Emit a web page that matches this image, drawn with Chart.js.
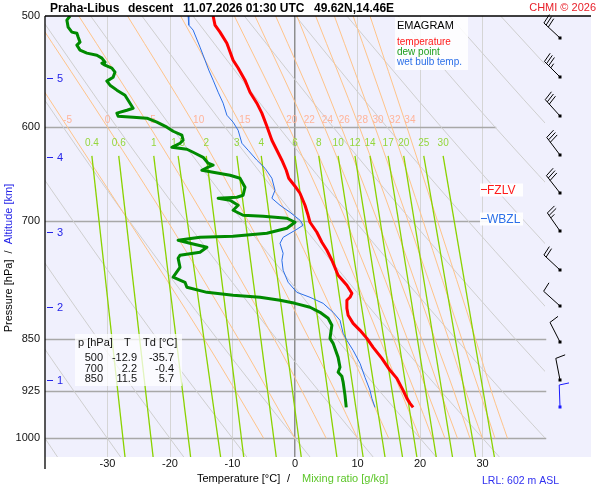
<!DOCTYPE html>
<html>
<head>
<meta charset="utf-8">
<title>Emagram Praha-Libus</title>
<script src="https://cdn.jsdelivr.net/npm/chart.js@4.4.1/dist/chart.umd.min.js"></script>
<style>
  html, body { margin: 0; padding: 0; background: #fff; }
  #wrap { width: 600px; height: 500px; }
</style>
</head>
<body>
<div id="wrap"><canvas id="emagram" width="600" height="500"></canvas></div>
<script>
// axis ticks
const pressureTicks = [500, 600, 700, 850, 925, 1000];
const tempTicks = [-30, -20, -10, 0, 10, 20, 30];

// temperature profile (hPa / degC)
const tempPres = [500, 507.5, 513.4, 522.8, 537.6, 544.6, 555.5, 566.6, 576.9, 586.4, 599.1, 613.1, 623.2, 633.5, 644, 652.5, 661.1, 668.8, 682.1, 693.4, 701.4, 713, 724.8, 734.4, 746.5, 765.1, 777.8, 788.1, 793.3, 797.2, 807.7, 817.1, 828, 837.5, 848.6, 861.2, 876.9, 894.3, 906.2, 924.2, 936.4, 944.1, 950.4];
const tempVals = [-13.1, -12.8, -12.0, -10.9, -9.9, -9.1, -8.0, -7.2, -6.1, -5.3, -4.5, -3.7, -2.9, -2.1, -1.4, -1.0, 0.0, 0.8, 1.6, 2.1, 2.4, 3.5, 4.3, 5.1, 5.9, 6.9, 8.3, 9.1, 8.8, 8.3, 8.3, 8.5, 9.3, 10.4, 11.5, 12.5, 13.9, 15.2, 16.3, 17.3, 17.9, 18.4, 18.9];

// dew point profile
const dewPres = [500, 503.4, 509.2, 513.4, 514.3, 517.6, 521.9, 524.5, 528.8, 531.4, 533.2, 535.8, 539.4, 540.2, 542, 544.6, 548.2, 552.8, 556.4, 560.1, 564.7, 569.4, 574.1, 581.7, 583.6, 586.4, 589.4, 590.3, 591.3, 595.2, 600.1, 604.1, 608, 613.1, 616.1, 620.2, 622.2, 625.3, 630.5, 636.6, 638.7, 640.8, 644, 646.1, 649.3, 652.5, 662.2, 671, 673.2, 674.3, 676.5, 682.1, 687.7, 693.4, 694.5, 696.8, 701.4, 708.3, 714.2, 717.7, 718.9, 722.4, 726, 730.8, 736.8, 740.5, 744.1, 755.2, 767.6, 774, 780.4, 786.9, 790.7, 793.3, 797.2, 801.2, 806.4, 813.1, 821.1, 830.6, 848.6, 855.6, 875.5, 889.9, 897.2, 903.2, 911.7, 931.8, 950.4];
const dewVals = [-36.0, -36.5, -36.3, -35.7, -34.9, -34.7, -34.4, -34.9, -34.4, -33.3, -31.7, -30.9, -30.4, -30.9, -30.4, -29.3, -28.8, -29.1, -30.1, -29.6, -28.5, -27.2, -26.7, -25.9, -26.9, -28.5, -28.3, -25.9, -23.7, -22.1, -20.5, -19.5, -18.1, -17.9, -18.4, -19.7, -17.3, -16.3, -14.7, -13.9, -13.1, -13.9, -14.9, -13.1, -10.4, -8.8, -8.0, -8.3, -9.3, -12.3, -10.4, -9.1, -9.9, -8.3, -5.1, -1.3, 0.0, -1.3, -4.5, -9.9, -15.2, -18.7, -16.8, -14.1, -15.2, -18.4, -18.7, -18.4, -19.5, -17.6, -17.3, -14.1, -9.9, -5.6, -2.4, 0.0, 2.4, 4.0, 5.3, 5.9, 5.6, 6.1, 6.9, 7.2, 6.9, 7.5, 7.7, 8.0, 8.2];

// wet bulb temperature profile
const wetPres = [500, 507.5, 511.7, 526.2, 537.6, 546.4, 555.5, 566.6, 576.9, 588.4, 595.2, 603.1, 616.1, 623.2, 633.5, 641.9, 652.5, 665.5, 674.3, 682.1, 690, 699.1, 704.8, 709.5, 719, 726, 738.1, 746.5, 758.9, 774, 786.9, 793.3, 801.2, 813.1, 823.8, 841.6, 851.4, 865.5, 884.1, 904.7, 924.2, 936.4, 950.4];
const wetVals = [-17.1, -17.0, -16.3, -15.2, -14.4, -13.8, -13.1, -12.3, -11.5, -10.9, -9.9, -9.1, -8.5, -7.5, -6.1, -4.8, -3.7, -3.2, -3.7, -2.4, -0.8, 0.8, 1.3, 0.3, -1.9, -2.4, -1.9, -2.1, -1.9, -1.1, 0.3, 2.4, 4.5, 6.1, 7.2, 7.7, 8.3, 9.3, 10.4, 11.2, 12.0, 12.3, 12.8];

// saturated (pseudo) adiabats, labelled by wet bulb potential temperature
const pseudoLevels = [500, 600, 700, 850, 925, 1000];
const pseudoTheta = [-5, 0, 5, 10, 15, 20, 22, 24, 26, 28, 30, 32, 34];
const pseudoTemps = [
  [-48.0, -36.4, -26.6, -14.5, -9.5, -5],
  [-41.7, -30.0, -20.4, -9.0, -4.3, 0],
  [-34.6, -23.2, -14.1, -3.3, 1.1, 5],
  [-26.8, -15.9, -7.5, 2.3, 6.4, 10],
  [-18.3, -8.5, -0.8, 8.0, 11.6, 15],
  [-9.7, -1.0, 5.8, 13.6, 16.9, 20],
  [-6.4, 1.8, 8.2, 15.8, 19.1, 22],
  [-3.1, 4.7, 10.8, 18.0, 21.1, 24],
  [0.3, 7.4, 13.2, 20.3, 23.2, 26],
  [3.3, 10.3, 15.8, 22.4, 25.4, 28],
  [6.3, 12.8, 18.1, 24.6, 27.3, 30],
  [9.3, 15.5, 20.5, 26.7, 29.5, 32],
  [12.0, 17.9, 22.8, 28.9, 31.4, 34]
];

// dry adiabats, labelled by potential temperature
const dryLevels = [500, 600, 700, 850, 925, 1031];
const dryTheta = [-40, -30, -20, -10, 0, 10, 20, 30, 40, 50, 60, 70, 80, 90, 100];
const dryTemps = [
  [-81.9, -71.7, -62.6, -50.6, -45.1, -38.0],
  [-73.7, -63.1, -53.6, -41.1, -35.4, -27.9],
  [-65.5, -54.4, -44.6, -31.5, -25.6, -17.8],
  [-57.3, -45.8, -35.5, -22.0, -15.8, -7.7],
  [-49.1, -37.1, -26.5, -12.4, -6.0, 2.4],
  [-40.9, -28.5, -17.5, -2.9, 3.8, 12.5],
  [-32.7, -19.8, -8.4, 6.7, 13.5, 22.6],
  [-24.5, -11.2, 0.6, 16.2, 23.3, 32.7],
  [-16.3, -2.6, 9.6, 25.8, 33.1, 42.8],
  [-8.1, 6.1, 18.7, 35.3, 42.9, 52.8],
  [0.1, 14.7, 27.7, 44.9, 52.7, 62.9],
  [8.3, 23.4, 36.7, 54.4, 62.4, 73.0],
  [16.5, 32.0, 45.8, 64.0, 72.2, 83.1],
  [24.7, 40.6, 54.8, 73.5, 82.0, 93.2],
  [32.9, 49.3, 63.8, 83.0, 91.8, 103.3]
];

// mixing ratio lines (g/kg), temperature at top and bottom end
const mixTopP = 629;
const mixBottomP = 1031;
const mixRatios = [0.4, 0.6, 1, 1.5, 2, 3, 4, 6, 8, 10, 12, 14, 17, 20, 25, 30];
const mixTopT = [-32.5, -28.2, -22.6, -18.7, -14.2, -9.3, -5.4, 0.0, 3.8, 6.9, 9.6, 12.0, 14.9, 17.4, 20.6, 23.7];
const mixBottomT = [-27.2, -22.7, -16.7, -11.9, -8.2, -3.0, 1.0, 6.7, 10.9, 14.4, 17.2, 19.5, 22.6, 25.2, 28.9, 31.9];

// value table
const tablePres = [500, 700, 850];
const tableT = [-12.9, 2.2, 11.5];
const tableTd = [-35.7, -0.4, 5.7];

// altitude marks (km) and their pressure
const altKm = [1, 2, 3, 4, 5];
const altPres = [909, 806, 713, 630, 554];

// freezing level and wet bulb zero level
const levelNames = ['FZLV', 'WBZL'];
const levelPres = [664, 697];

// wind (direction deg, speed kt)
const windPres = [518, 553, 589, 628, 669, 712, 758, 805, 854, 908, 950];
const windDir = [313, 315, 318, 323, 322, 325, 313, 312, 333, 349, 358];
const windSpd = [30, 35, 30, 30, 30, 25, 20, 10, 10, 10, 10];

const FONT = "'Liberation Sans', Arial, Helvetica, sans-serif";
const BLUE = '#2323e8';

function curve(label, pres, vals, color, width, order, extra) {
  return Object.assign({
    label: label,
    data: pres.map((p, i) => ({ x: vals[i], y: p })),
    borderColor: color,
    borderWidth: width,
    pointRadius: 0,
    fill: false,
    order: order
  }, extra || {});
}

const datasets = [];
dryTheta.forEach((th, i) => {
  datasets.push(curve('dry ' + th, dryLevels, dryTemps[i], '#cfcfcf', 1, 5,
    { cubicInterpolationMode: 'monotone', clip: { left: 0, top: 0, right: -46, bottom: 0 } }));
});
pseudoTheta.forEach((th, i) => {
  datasets.push(curve('moist ' + th, pseudoLevels, pseudoTemps[i], '#ffc48a', 1, 4,
    { cubicInterpolationMode: 'monotone' }));
});
mixRatios.forEach((w, i) => {
  datasets.push(curve('mix ' + w, [mixTopP, mixBottomP], [mixTopT[i], mixBottomT[i]], '#8ad200', 1.3, 3));
});
datasets.push(curve('wet bulb temp.', wetPres, wetVals, '#2b6fe8', 1, 2));
datasets.push(curve('dew point', dewPres, dewVals, '#008a00', 3, 1, { borderJoinStyle: 'round' }));
datasets.push(curve('temperature', tempPres, tempVals, '#ff0000', 3, 0, { borderJoinStyle: 'round' }));

function drawIsoLabels(chart) {
  const { ctx, scales: { x, y } } = chart;
  const i600 = pseudoLevels.indexOf(600);
  ctx.save();
  ctx.font = '10px ' + FONT;
  ctx.textAlign = 'center';
  ctx.textBaseline = 'middle';
  ctx.fillStyle = '#ffb49a';
  pseudoTheta.forEach((th, i) => {
    const shift = th <= 0 ? 0 : 3;
    ctx.fillText(String(th), x.getPixelForValue(pseudoTemps[i][i600]) + shift, y.getPixelForValue(600) - 7);
  });
  ctx.fillStyle = '#94d63c';
  mixRatios.forEach((w, i) => {
    ctx.fillText(String(w), x.getPixelForValue(mixTopT[i]), y.getPixelForValue(mixTopP) - 13);
  });
  ctx.restore();
}

function drawBarb(ctx, px, py, dir, spd, color) {
  const r = dir * Math.PI / 180;
  const ux = Math.sin(r), uy = -Math.cos(r);
  const L = 22;
  const a = 80 * Math.PI / 180;
  const fx = ux * Math.cos(a) - uy * Math.sin(a);
  const fy = ux * Math.sin(a) + uy * Math.cos(a);
  ctx.strokeStyle = color;
  ctx.fillStyle = color;
  ctx.lineWidth = 1;
  ctx.beginPath();
  ctx.moveTo(px, py);
  ctx.lineTo(px + ux * L, py + uy * L);
  let s = spd, d = L;
  while (s >= 10) {
    ctx.moveTo(px + ux * d, py + uy * d);
    ctx.lineTo(px + ux * d + fx * 10, py + uy * d + fy * 10);
    s -= 10; d -= 3;
  }
  if (s >= 5) {
    if (d === L) d -= 3;
    ctx.moveTo(px + ux * d, py + uy * d);
    ctx.lineTo(px + ux * d + fx * 5, py + uy * d + fy * 5);
  }
  ctx.stroke();
  ctx.fillRect(px - 1.5, py - 1.5, 3, 3);
}

const emagramPlugin = {
  id: 'emagram',
  beforeDraw(chart) {
    const { ctx, chartArea: a } = chart;
    ctx.save();
    ctx.fillStyle = '#ffffff';
    ctx.fillRect(0, 0, chart.width, chart.height);
    ctx.fillStyle = '#f0f0fd';
    ctx.fillRect(a.left, a.top, a.right - a.left, a.bottom - a.top);
    ctx.restore();
  },
  beforeDatasetsDraw(chart) {
    const { ctx, scales: { x, y } } = chart;
    ctx.save();
    ctx.strokeStyle = '#a8a8a8';
    ctx.lineWidth = 1.5;
    pressureTicks.forEach(p => {
      if (p === 500) return;
      const py = Math.round(y.getPixelForValue(p)) + 0.5;
      const endT = p === 600 ? 32.2 : (p === 700 ? 31 : 40.2);
      ctx.beginPath();
      ctx.moveTo(x.left, py);
      ctx.lineTo(x.getPixelForValue(endT), py);
      ctx.stroke();
    });
    ctx.restore();
  },
  beforeDatasetDraw(chart, args) {
    if (chart.data.datasets[args.index].label === 'wet bulb temp.') drawIsoLabels(chart);
  },
  afterDatasetsDraw(chart) {
    const { ctx, chartArea: a, scales: { x, y } } = chart;
    ctx.save();

    // frame
    ctx.strokeStyle = '#000';
    ctx.lineWidth = 1.3;
    ctx.beginPath();
    ctx.moveTo(a.left, a.top);
    ctx.lineTo(a.right, a.top);
    ctx.moveTo(a.left, a.top);
    ctx.lineTo(a.left, a.bottom + 12);
    ctx.stroke();

    // legend box
    ctx.fillStyle = 'rgba(255,255,255,0.85)';
    ctx.fillRect(395, 17, 73, 53);
    ctx.textAlign = 'left';
    ctx.textBaseline = 'middle';
    ctx.fillStyle = '#000';
    ctx.font = '11px ' + FONT;
    ctx.fillText('EMAGRAM', 397, 26);
    ctx.font = '10px ' + FONT;
    ctx.fillStyle = '#ff1a1a'; ctx.fillText('temperature', 397, 42);
    ctx.fillStyle = '#1e9e1e'; ctx.fillText('dew point', 397, 52);
    ctx.fillStyle = '#2b6fe8'; ctx.fillText('wet bulb temp.', 397, 62);

    // value table
    ctx.fillStyle = 'rgba(255,255,255,0.75)';
    ctx.fillRect(75, 334, 107, 52);
    ctx.font = '11px ' + FONT;
    ctx.fillStyle = '#111';
    ctx.textAlign = 'left';
    ctx.fillText('p [hPa]', 78, 343);
    ctx.fillText('T', 124, 343);
    ctx.fillText('Td [°C]', 143, 343);
    ctx.textAlign = 'right';
    tablePres.forEach((p, i) => {
      const ty = 358 + i * 10.5;
      ctx.fillText(String(p), 103, ty);
      ctx.fillText(tableT[i].toFixed(1), 137, ty);
      ctx.fillText(tableTd[i].toFixed(1), 174, ty);
    });

    // altitude marks
    ctx.textAlign = 'left';
    ctx.strokeStyle = BLUE;
    ctx.fillStyle = BLUE;
    ctx.lineWidth = 1;
    altKm.forEach((km, i) => {
      const ay = Math.round(y.getPixelForValue(altPres[i])) + 0.5;
      ctx.beginPath(); ctx.moveTo(47, ay); ctx.lineTo(53, ay); ctx.stroke();
      ctx.fillText(String(km), 57, ay);
    });

    // FZLV / WBZL
    ctx.font = '12px ' + FONT;
    levelNames.forEach((name, i) => {
      const ly = Math.round(y.getPixelForValue(levelPres[i])) + 0.5;
      const col = i === 0 ? '#ff1a1a' : '#2b6fe8';
      ctx.fillStyle = 'rgba(255,255,255,0.92)';
      ctx.fillRect(480, ly - 6, 43, 13);
      ctx.strokeStyle = col; ctx.fillStyle = col;
      ctx.beginPath(); ctx.moveTo(481, ly); ctx.lineTo(487, ly); ctx.stroke();
      ctx.fillText(name, 487, ly + 1);
    });

    // wind barbs
    windPres.forEach((p, i) => {
      const col = i === windPres.length - 1 ? '#1a1aff' : '#000';
      drawBarb(ctx, 560, Math.round(y.getPixelForValue(p)), windDir[i], windSpd[i], col);
    });
    ctx.restore();
  },
  afterDraw(chart) {
    const { ctx } = chart;
    ctx.save();
    ctx.fillStyle = '#000';
    ctx.textAlign = 'left';
    ctx.textBaseline = 'alphabetic';
    ctx.font = 'bold 12px ' + FONT;
    ctx.fillText('Praha-Libus', 50, 12);
    ctx.fillText('descent', 128, 12);
    ctx.fillText('11.07.2026 01:30 UTC', 183, 12);
    ctx.fillText('49.62N,14.46E', 314, 12);
    ctx.font = '11px ' + FONT;
    ctx.fillStyle = '#e8202a';
    ctx.textAlign = 'right';
    ctx.fillText('CHMI © 2026', 596, 11);

    // x axis title
    ctx.textAlign = 'left';
    ctx.textBaseline = 'middle';
    ctx.fillStyle = '#000';
    ctx.fillText('Temperature [°C]', 197, 479);
    ctx.fillText('/', 287, 479);
    ctx.fillStyle = '#5cc629';
    ctx.fillText('Mixing ratio [g/kg]', 302, 479);

    // LRL
    ctx.font = '10.5px ' + FONT;
    ctx.fillStyle = '#3030f0';
    ctx.fillText('LRL: 602 m ASL', 482, 481);

    // y axis title
    ctx.translate(9, 258);
    ctx.rotate(-Math.PI / 2);
    ctx.font = '11px ' + FONT;
    const t1 = 'Pressure [hPa]  /  ', t2 = 'Altitude [km]';
    const w1 = ctx.measureText(t1).width, w2 = ctx.measureText(t2).width;
    const sx = -(w1 + w2) / 2;
    ctx.fillStyle = '#000';
    ctx.fillText(t1, sx, 0);
    ctx.fillStyle = BLUE;
    ctx.fillText(t2, sx + w1, 0);
    ctx.restore();
  }
};

const ctx = document.getElementById('emagram').getContext('2d');
new Chart(ctx, {
  type: 'line',
  data: { datasets: datasets },
  options: {
    responsive: false,
    animation: false,
    layout: { padding: { top: 16, right: 9, left: 0, bottom: 0 } },
    plugins: { legend: { display: false }, tooltip: { enabled: false } },
    elements: { line: { tension: 0 }, point: { radius: 0 } },
    scales: {
      x: {
        type: 'linear',
        min: -40,
        max: 47.36,
        bounds: 'data',
        afterBuildTicks: s => { s.ticks = tempTicks.map(v => ({ value: v })); },
        afterFit: s => { s.height = 43; },
        border: { display: false },
        grid: {
          drawTicks: false,
          color: c => (c.tick && c.tick.value === 0) ? '#8e8e8e' : '#d5d5d5',
          lineWidth: c => (c.tick && c.tick.value === 0) ? 1.5 : 1
        },
        ticks: {
          autoSkip: false,
          maxRotation: 0,
          padding: 0,
          color: '#111',
          font: { family: FONT, size: 11 }
        }
      },
      y: {
        type: 'logarithmic',
        reverse: true,
        min: 500,
        max: 1031,
        bounds: 'data',
        afterBuildTicks: s => { s.ticks = pressureTicks.map(v => ({ value: v })); },
        afterFit: s => { s.width = 45; },
        border: { display: false },
        grid: { display: false, drawTicks: false },
        ticks: {
          autoSkip: false,
          padding: 5,
          color: '#111',
          font: { family: FONT, size: 11 },
          callback: v => String(v)
        }
      }
    }
  },
  plugins: [emagramPlugin]
});
</script>
</body>
</html>
